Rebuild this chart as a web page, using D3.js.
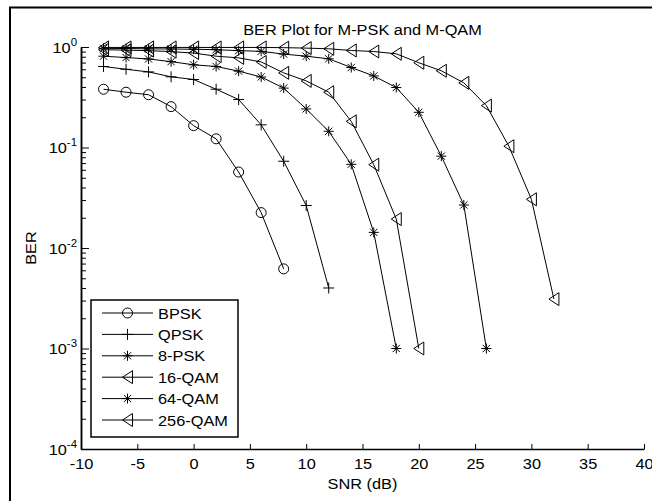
<!DOCTYPE html>
<html>
<head>
<meta charset="utf-8">
<script src="https://cdn.jsdelivr.net/npm/d3@7"></script>
<style>
  html, body { margin: 0; padding: 0; background: #fff; overflow: hidden; width: 652px; height: 501px; }
  svg { display: block; overflow: hidden; }
  text { font-family: "Liberation Sans", Arial, sans-serif; fill: #000; }
</style>
</head>
<body>
<svg id="chart" width="652" height="501"></svg>
<script>
// ---------- data ----------
const snrBPSK  = [-8, -6, -4, -2, 0, 2, 4, 6, 8];
const berBPSK  = [0.38, 0.355, 0.335, 0.255, 0.165, 0.122, 0.057, 0.0225, 0.0062];

const snrQPSK  = [-8, -6, -4, -2, 0, 2, 4, 6, 8, 10, 12];
const berQPSK  = [0.64, 0.6, 0.565, 0.505, 0.475, 0.38, 0.30, 0.168, 0.073, 0.0265, 0.004];

const snr8PSK  = [-8, -6, -4, -2, 0, 2, 4, 6, 8, 10, 12, 14, 16, 18];
const ber8PSK  = [0.81, 0.785, 0.76, 0.715, 0.665, 0.64, 0.575, 0.503, 0.39, 0.242, 0.145, 0.068, 0.0143, 0.001];

const snr16QAM = [-8, -6, -4, -2, 0, 2, 4, 6, 8, 10, 12, 14, 16, 18, 20];
const ber16QAM = [0.94, 0.93, 0.92, 0.9, 0.87, 0.81, 0.78, 0.71, 0.553, 0.46, 0.355, 0.182, 0.0675, 0.0194, 0.001];

const snr64QAM = [-8, -6, -4, -2, 0, 2, 4, 6, 8, 10, 12, 14, 16, 18, 20, 22, 24, 26];
const ber64QAM = [0.97, 0.965, 0.96, 0.955, 0.95, 0.94, 0.92, 0.905, 0.85, 0.81, 0.763, 0.625, 0.515, 0.395, 0.224, 0.082, 0.0268, 0.001];

const snr256QAM = [-8, -6, -4, -2, 0, 2, 4, 6, 8, 10, 12, 14, 16, 18, 20, 22, 24, 26, 28, 30, 32];
const ber256QAM = [0.99, 0.99, 0.99, 0.99, 0.99, 0.99, 0.99, 0.99, 0.985, 0.975, 0.96, 0.923, 0.902, 0.855, 0.697, 0.58, 0.44, 0.261, 0.103, 0.0305, 0.0031];

const seriesNames   = ["BPSK", "QPSK", "8-PSK", "16-QAM", "64-QAM", "256-QAM"];
const seriesMarkers = ["circle", "plus", "star", "triangleLeft", "star", "triangleLeft"];

const xTicks = [-10, -5, 0, 5, 10, 15, 20, 25, 30, 35, 40];
const yExponents = [0, -1, -2, -3, -4];

const titleText = "BER Plot for M-PSK and M-QAM";
const xLabelText = "SNR (dB)";
const yLabelText = "BER";

// ---------- build ----------
const seriesX = [snrBPSK, snrQPSK, snr8PSK, snr16QAM, snr64QAM, snr256QAM];
const seriesY = [berBPSK, berQPSK, ber8PSK, ber16QAM, ber64QAM, ber256QAM];
const series = seriesNames.map((name, i) => ({
  name, marker: seriesMarkers[i],
  points: seriesX[i].map((xv, j) => ({ x: xv, y: seriesY[i][j] }))
}));

const svg = d3.select("#chart");
const SX = 1.09; // horizontal stretch of text seen in the reference

// outer figure frame: only its left and top edges fall inside the picture
svg.append("line").attr("x1", 10).attr("x2", 10).attr("y1", 7.5).attr("y2", 501)
  .attr("stroke", "#000").attr("stroke-width", 2);
svg.append("line").attr("x1", 9).attr("x2", 652).attr("y1", 7.5).attr("y2", 7.5)
  .attr("stroke", "#000").attr("stroke-width", 2);

const pLeft = 81, pRight = 644, pTop = 47, pBottom = 449;
const x = d3.scaleLinear().domain([-10, 40]).range([pLeft, pRight]);
const y = d3.scaleLog().domain([1e-4, 1]).range([pBottom, pTop]);

// X axis
const xAxis = svg.append("g")
  .attr("transform", `translate(0,${pBottom})`)
  .call(d3.axisBottom(x).tickValues(xTicks).tickSizeInner(-5).tickSizeOuter(0).tickPadding(9)
        .tickFormat(d => String(d)));
xAxis.select(".domain").attr("stroke-width", 1.5);
xAxis.selectAll("text").attr("font-size", 15).attr("font-family", "Liberation Sans, Arial, sans-serif")
  .attr("transform", `scale(${SX},1)`);

// Y axis: minor ticks
const minorVals = [];
yExponents.slice(1).forEach(e => { for (let k = 2; k <= 9; k++) minorVals.push(k * Math.pow(10, e)); });
const yMinor = svg.append("g")
  .attr("transform", `translate(${pLeft},0)`)
  .call(d3.axisLeft(y).tickValues(minorVals).tickSizeInner(-5).tickSizeOuter(0).tickFormat(""));
yMinor.select(".domain").attr("stroke-width", 1.5);

// Y axis: major ticks
const majorVals = yExponents.map(e => Math.pow(10, e));
const yMajor = svg.append("g")
  .attr("transform", `translate(${pLeft},0)`)
  .call(d3.axisLeft(y).tickValues(majorVals).tickSizeInner(-8).tickSizeOuter(0).tickFormat(""));
yMajor.select(".domain").attr("stroke-width", 1.5);

// Y tick labels with superscripts
const yLab = svg.append("g").selectAll("text").data(yExponents).join("text")
  .attr("transform", e => `translate(${pLeft - 4},${y(Math.pow(10, e)) + 5.5}) scale(${SX},1)`)
  .attr("text-anchor", "end")
  .attr("font-size", 15);
yLab.append("tspan").text("10");
yLab.append("tspan").attr("dy", -7).attr("font-size", 10.5).text(e => String(e));

// title & labels
svg.append("text")
  .attr("transform", `translate(${(pLeft + pRight) / 2},35) scale(${SX},1)`)
  .attr("text-anchor", "middle").attr("font-size", 15).text(titleText);
svg.append("text")
  .attr("transform", `translate(${(pLeft + pRight) / 2},489) scale(${SX},1)`)
  .attr("text-anchor", "middle").attr("font-size", 15).text(xLabelText);
svg.append("text")
  .attr("transform", `translate(36,${(pTop + pBottom) / 2}) rotate(-90) scale(${SX},1)`)
  .attr("text-anchor", "middle").attr("font-size", 15).text(yLabelText);

// marker path generator
function markerPath(type) {
  switch (type) {
    case "circle": return "M5,0 A5,5 0 1,1 -5,0 A5,5 0 1,1 5,0 Z";
    case "plus": return "M-5.5,0 L5.5,0 M0,-5.5 L0,5.5";
    case "star": return "M-5,0 L5,0 M0,-5 L0,5 M-3.6,-3.6 L3.6,3.6 M-3.6,3.6 L3.6,-3.6";
    case "triangleLeft": return "M-5,0 L5,-6.5 L5,6.5 Z";
  }
}

// series lines and markers
const line = d3.line().x(d => x(d.x)).y(d => y(d.y));
const plot = svg.append("g");
series.forEach(s => {
  plot.append("path").datum(s.points)
    .attr("d", line).attr("fill", "none").attr("stroke", "#000").attr("stroke-width", 1);
  plot.append("g").selectAll("path").data(s.points).join("path")
    .attr("transform", d => `translate(${x(d.x)},${y(d.y)})`)
    .attr("d", markerPath(s.marker))
    .attr("fill", "none").attr("stroke", "#000").attr("stroke-width", 1);
});

// legend
const lg = svg.append("g");
lg.append("rect").attr("x", 91).attr("y", 300).attr("width", 147).attr("height", 137)
  .attr("fill", "#fff").attr("stroke", "#000").attr("stroke-width", 1.5);
const rowY = i => 313 + i * 21.4;
series.forEach((s, i) => {
  const yy = rowY(i);
  lg.append("line").attr("x1", 102).attr("x2", 153).attr("y1", yy).attr("y2", yy)
    .attr("stroke", "#000").attr("stroke-width", 1);
  lg.append("path").attr("transform", `translate(127.5,${yy})`).attr("d", markerPath(s.marker))
    .attr("fill", "none").attr("stroke", "#000").attr("stroke-width", 1);
  lg.append("text").attr("transform", `translate(158,${yy + 5.5}) scale(${SX},1)`)
    .attr("font-size", 15).text(s.name);
});
</script>
</body>
</html>
